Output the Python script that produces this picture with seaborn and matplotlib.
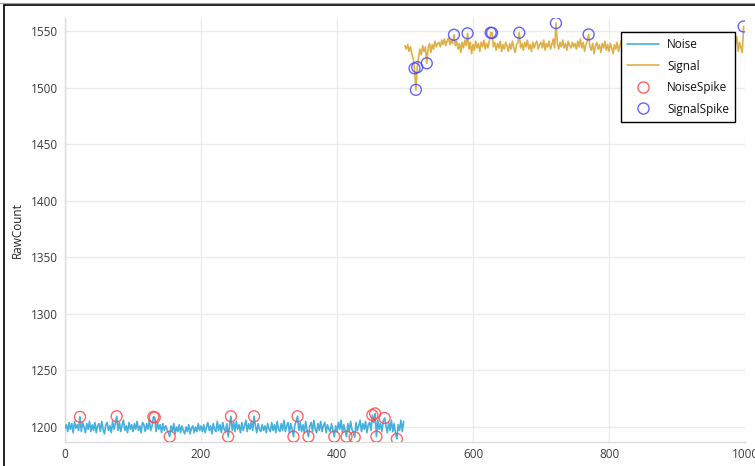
import numpy as np
import pandas as pd
import matplotlib
matplotlib.use("Agg")
import matplotlib.pyplot as plt
import seaborn as sns
from matplotlib.lines import Line2D

# ---------------- data ----------------
noise_values = [
    1199, 1202, 1196, 1204, 1198, 1203, 1195, 1205, 1199, 1202, 1197, 1209, 1196, 1204, 1200, 1195, 1203, 1198, 1205, 1196, 1202, 1197, 1204, 1195, 1201,
    1203, 1196, 1205, 1198, 1194, 1202, 1204, 1197, 1201, 1195, 1205, 1198, 1203, 1209.5, 1197, 1204, 1196, 1202, 1206, 1197, 1201, 1195, 1204, 1198, 1202,
    1196, 1203, 1198, 1205, 1197, 1201, 1195, 1204, 1202, 1196, 1203, 1198, 1206, 1197, 1201, 1209, 1208.5, 1196, 1204, 1198, 1202, 1195, 1203, 1197, 1201,
    1198, 1195, 1191.5, 1201, 1196, 1203, 1194, 1200, 1196, 1202, 1195, 1201, 1197, 1194, 1200, 1196, 1202, 1194, 1199, 1201, 1195, 1200, 1196, 1203, 1197,
    1201, 1196, 1202, 1195, 1200, 1204, 1197, 1201, 1194, 1203, 1198, 1196, 1205, 1197, 1202, 1195, 1204, 1198, 1196, 1203, 1191.5, 1201, 1209.5, 1197, 1204,
    1196, 1205, 1198, 1202, 1195, 1204, 1197, 1201, 1206, 1196, 1203, 1198, 1205, 1197, 1209.5, 1201, 1195, 1203, 1198, 1196, 1202, 1197, 1201, 1195, 1203,
    1198, 1196, 1204, 1197, 1202, 1195, 1205, 1198, 1196, 1203, 1197, 1206, 1196, 1201, 1204, 1195, 1203, 1198, 1191.5, 1202, 1205, 1209.5, 1197, 1204, 1196,
    1202, 1195, 1205, 1197, 1191.5, 1201, 1204, 1196, 1206, 1198, 1195, 1203, 1197, 1205, 1196, 1201, 1204, 1195, 1202, 1198, 1196, 1203, 1197, 1191.5, 1201,
    1196, 1204, 1198, 1206, 1195, 1202, 1197, 1191.5, 1203, 1196, 1205, 1198, 1195, 1191, 1204, 1197, 1201, 1206, 1196, 1203, 1198, 1205, 1195, 1202, 1204,
    1197, 1210.5, 1204, 1212, 1191.5, 1206, 1198, 1203, 1196, 1205, 1208, 1201, 1195, 1204, 1197, 1206, 1196, 1203, 1195, 1189.5, 1202, 1197, 1206, 1196, 1205,
]
noise_x = list(range(0, 500, 2))

signal_values = [
    1537, 1534, 1538, 1532, 1536, 1530, 1526, 1517, 1498, 1518, 1527, 1534, 1529, 1537, 1532, 1536, 1521.5, 1535, 1539, 1531, 1538, 1534, 1541, 1536, 1539,
    1540, 1536, 1542, 1538, 1543, 1537, 1541, 1544, 1538, 1542, 1539, 1546.7, 1537, 1541, 1534, 1539, 1531, 1540, 1535, 1542, 1537, 1548, 1534, 1540, 1530,
    1538, 1533, 1541, 1535, 1539, 1532, 1540, 1536, 1542, 1534, 1539, 1535, 1541, 1548.5, 1548.3, 1536, 1540, 1533, 1539, 1535, 1541, 1532, 1538, 1534, 1540,
    1537, 1532, 1539, 1534, 1541, 1535, 1531, 1538, 1540, 1548.5, 1535, 1539, 1533, 1540, 1536, 1542, 1534, 1538, 1532, 1540, 1535, 1539, 1541, 1534, 1538,
    1540, 1535, 1542, 1533, 1539, 1536, 1541, 1534, 1538, 1543, 1535, 1557, 1539, 1534, 1540, 1536, 1542, 1535, 1539, 1533, 1541, 1537, 1535, 1540, 1536,
    1539, 1534, 1541, 1536, 1543, 1535, 1540, 1532, 1538, 1541, 1547, 1536, 1533, 1539, 1530, 1537, 1540, 1534, 1538, 1531, 1539, 1535, 1541, 1533, 1538,
    1532, 1539, 1535, 1530, 1538, 1534, 1540, 1532, 1537, 1541, 1535, 1538, 1533, 1540, 1536, 1534, 1539, 1535, 1541, 1533, 1538, 1535, 1540, 1534, 1538,
    1536, 1540, 1534, 1539, 1535, 1542, 1533, 1538, 1540, 1535, 1539, 1534, 1541, 1536, 1533, 1539, 1535, 1540, 1537, 1534, 1541, 1536, 1539, 1533, 1538,
    1535, 1540, 1536, 1542, 1534, 1539, 1537, 1533, 1540, 1535, 1541, 1536, 1534, 1539, 1537, 1535, 1540, 1533, 1539, 1536, 1541, 1534, 1538, 1540, 1535,
    1539, 1534, 1540, 1536, 1533, 1541, 1535, 1538, 1532, 1540, 1536, 1542, 1534, 1538, 1540, 1535, 1543, 1533, 1539, 1545, 1532, 1540, 1535, 1531, 1554,
]
signal_x = list(range(500, 1000, 2))

noise_spike_x = [22, 76, 130, 132, 154, 240, 244, 278, 336, 342, 358, 396, 414, 426, 452, 456, 458, 470, 488]
noise_spike_y = [1209, 1209.5, 1209, 1208.5, 1191.5, 1191.5, 1209.5, 1209.5, 1191.5, 1209.5, 1191.5, 1191.5, 1191.5, 1191, 1210.5, 1212, 1191.5, 1208, 1189.5]

signal_spike_x = [514, 516, 518, 532, 572, 592, 626, 628, 668, 722, 770, 998]
signal_spike_y = [1517, 1498, 1518, 1521.5, 1546.7, 1548, 1548.5, 1548.3, 1548.5, 1557, 1547, 1554]

series_names = ["Noise", "Signal", "NoiseSpike", "SignalSpike"]
x_ticks = [0, 200, 400, 600, 800, 1000]
y_ticks = [1200, 1250, 1300, 1350, 1400, 1450, 1500, 1550]
y_label = "RawCount"

noise_color = "#45b0de"
signal_color = "#e0b048"
red_color = "#ff4a4a"
blue_color = "#4a4aff"

# ---------------- plotting ----------------
sns.set_theme(style="white")
plt.rcParams["font.family"] = ["Open Sans", "DejaVu Sans"]

fig = plt.figure(figsize=(7.55, 4.66), dpi=100)
ax = fig.add_axes([65 / 755, (466 - 442.3) / 466, 680 / 755, (442.3 - 18) / 466])

noise_df = pd.DataFrame({"x": noise_x, "y": noise_values})
signal_df = pd.DataFrame({"x": signal_x, "y": signal_values})
ns_df = pd.DataFrame({"x": noise_spike_x, "y": noise_spike_y})
ss_df = pd.DataFrame({"x": signal_spike_x, "y": signal_spike_y})

sns.lineplot(data=noise_df, x="x", y="y", ax=ax, color=noise_color, linewidth=1.2, zorder=3)
sns.lineplot(data=signal_df, x="x", y="y", ax=ax, color=signal_color, linewidth=1.2, zorder=3)
sns.scatterplot(data=ns_df, x="x", y="y", ax=ax, s=62, facecolor="none",
                edgecolor=red_color, linewidth=1.0, alpha=0.85, zorder=4)
sns.scatterplot(data=ss_df, x="x", y="y", ax=ax, s=62, facecolor="none",
                edgecolor=blue_color, linewidth=1.0, alpha=0.85, zorder=4)

ax.set_xlim(0, 1000)
ax.set_ylim(1186.5, 1561.5)
ax.set_xticks(x_ticks)
ax.set_yticks(y_ticks)
ax.set_xticks(np.arange(0, 1001, 50), minor=True)
ax.set_yticks(np.arange(1190, 1561, 10), minor=True)
ax.grid(True, which="major", color="#ebebeb", linewidth=1.0)
ax.set_axisbelow(True)
ax.tick_params(axis="both", which="major", length=0, labelsize=8.5, labelcolor="#3a3a3a")
ax.tick_params(axis="y", which="major", pad=5)
ax.tick_params(axis="x", which="major", pad=4)
ax.tick_params(axis="both", which="minor", length=3, direction="in", color="#e2e2e2", width=0.8)
for name, sp in ax.spines.items():
    if name in ("left", "bottom"):
        sp.set_color("#dcdcdc")
        sp.set_linewidth(1.0)
    else:
        sp.set_visible(False)

ax.set_xlabel("")
ax.set_ylabel(y_label, fontsize=8.5, color="#222222", labelpad=0)
ax.yaxis.set_label_coords(-41 / 680, 0.5)

handles = [
    Line2D([], [], color=noise_color, linewidth=1.2),
    Line2D([], [], color=signal_color, linewidth=1.2),
    Line2D([], [], linestyle="none", marker="o", markersize=8, markerfacecolor="none",
           markeredgecolor=red_color, alpha=0.85),
    Line2D([], [], linestyle="none", marker="o", markersize=8, markerfacecolor="none",
           markeredgecolor=blue_color, alpha=0.85),
]
leg = ax.legend(handles, series_names, loc="upper right", bbox_to_anchor=(0.986, 0.968),
                fontsize=8.5, frameon=True, fancybox=False, framealpha=1.0,
                edgecolor="black", handlelength=2.7, handletextpad=0.65,
                labelspacing=0.72, borderpad=0.55, borderaxespad=0.0)
leg.get_frame().set_linewidth(1.0)
leg.set_zorder(10)
for t in leg.get_texts():
    t.set_color("#111111")

# window frame lines (left and top)
fig.add_artist(Line2D([3.5 / 755, 3.5 / 755], [0, 1 - 4.5 / 466], transform=fig.transFigure,
                      color="black", linewidth=1.2))
fig.add_artist(Line2D([3.5 / 755, 1], [1 - 4.8 / 466, 1 - 4.8 / 466], transform=fig.transFigure,
                      color="black", linewidth=1.2))
fig.add_artist(Line2D([0, 1], [1 - 3.2 / 466, 1 - 3.2 / 466], transform=fig.transFigure,
                      color="#a0a0a0", linewidth=0.8))

fig.savefig("out.png", dpi=100)
